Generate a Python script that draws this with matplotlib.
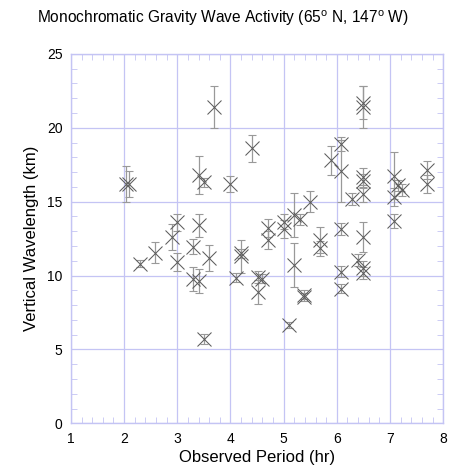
import numpy as np
import matplotlib
matplotlib.use('Agg')
import matplotlib.pyplot as plt
from matplotlib.ticker import MultipleLocator

plt.rcParams['font.family'] = ['Liberation Sans', 'DejaVu Sans']
plt.rcParams['mathtext.fontset'] = 'custom'
plt.rcParams['mathtext.rm'] = 'Liberation Sans'

# observed period (hr), vertical wavelength (km), error (km)
period = [2.04, 2.10, 2.30, 2.59, 2.90, 3.00, 3.00, 3.30, 3.40, 3.40,
          3.50, 3.30, 3.40, 3.60, 3.50, 3.70, 4.00, 4.10, 4.20, 4.20,
          4.40, 4.51, 4.60, 4.51, 4.70, 4.70, 5.00, 5.00, 5.19, 5.30,
          5.19, 5.39, 5.39, 5.10, 5.49, 5.69, 5.69, 5.89, 6.08, 6.08,
          6.08, 6.08, 6.08, 6.29, 6.39, 6.49, 6.49, 6.49, 6.49, 6.49,
          6.49, 6.49, 6.49, 7.08, 7.08, 7.08, 7.15, 7.22, 7.69, 7.69]
wavelength = [16.2, 16.2, 10.8, 11.55, 12.6, 13.6, 10.9, 11.95, 13.4, 16.8,
              16.3, 9.75, 9.65, 11.2, 5.7, 21.4, 16.2, 9.86, 11.3, 11.5,
              18.6, 9.93, 9.8, 8.87, 13.2, 12.4, 13.65, 13.15, 14.1, 13.8,
              10.7, 8.7, 8.55, 6.65, 15.0, 12.4, 11.85, 17.8, 18.9, 17.1,
              13.15, 10.27, 9.1, 15.2, 11.05, 21.7, 21.4, 16.7, 16.4, 15.5,
              12.6, 10.5, 10.2, 16.75, 15.3, 13.7, 16.1, 15.8, 17.15, 16.2]
error = [1.2, 0.9, 0.25, 0.7, 0.9, 0.6, 0.6, 0.5, 0.8, 1.3,
         0.3, 0.8, 0.8, 0.9, 0.35, 1.4, 0.55, 0.3, 1.1, 0.3,
         0.9, 0.4, 0.3, 0.8, 0.6, 0.6, 0.5, 0.6, 1.5, 0.4,
         1.5, 0.3, 0.3, 0.2, 0.7, 0.9, 0.5, 1.0, 0.5, 2.1,
         0.4, 0.4, 0.3, 0.4, 0.4, 1.1, 1.4, 0.6, 0.5, 0.5,
         1.0, 0.5, 0.4, 1.6, 0.6, 0.5, 0.4, 0.4, 0.6, 0.6]

grid_col = '#c4c4f4'

fig = plt.figure(figsize=(4.76, 4.73), dpi=100)
ax = fig.add_axes([0.149, 0.105, 0.782, 0.781])

ax.errorbar(period, wavelength, yerr=error, fmt='none', ecolor='#999999',
            elinewidth=0.9, capsize=3, capthick=0.8, zorder=2)
ax.plot(period, wavelength, 'x', color='#5c5c5c', ms=10, mew=0.75, zorder=3)

ax.set_xlim(1, 8)
ax.set_ylim(0, 25)
ax.xaxis.set_major_locator(MultipleLocator(1))
ax.xaxis.set_minor_locator(MultipleLocator(0.2))
ax.yaxis.set_major_locator(MultipleLocator(5))
ax.yaxis.set_minor_locator(MultipleLocator(1))
ax.grid(True, which='major', color=grid_col, lw=0.9, zorder=0)
ax.set_axisbelow(True)
for s in ax.spines.values():
    s.set_color(grid_col)
    s.set_linewidth(1.0)
ax.tick_params(which='both', direction='in', top=True, right=True,
               color=grid_col, labelsize=10, labelcolor='black')
ax.tick_params(which='major', length=0, pad=6)
ax.tick_params(which='minor', length=4)

ax.set_xlabel('Observed Period (hr)', fontsize=12, labelpad=3)
ax.set_ylabel('Vertical Wavelength (km)', fontsize=12, labelpad=6)
fig.text(0.468, 0.962, r'Monochromatic Gravity Wave Activity (65$^{\rm o}$ N, 147$^{\rm o}$ W)',
         ha='center', va='center', fontsize=11.2)

fig.savefig('out.png', dpi=100)
